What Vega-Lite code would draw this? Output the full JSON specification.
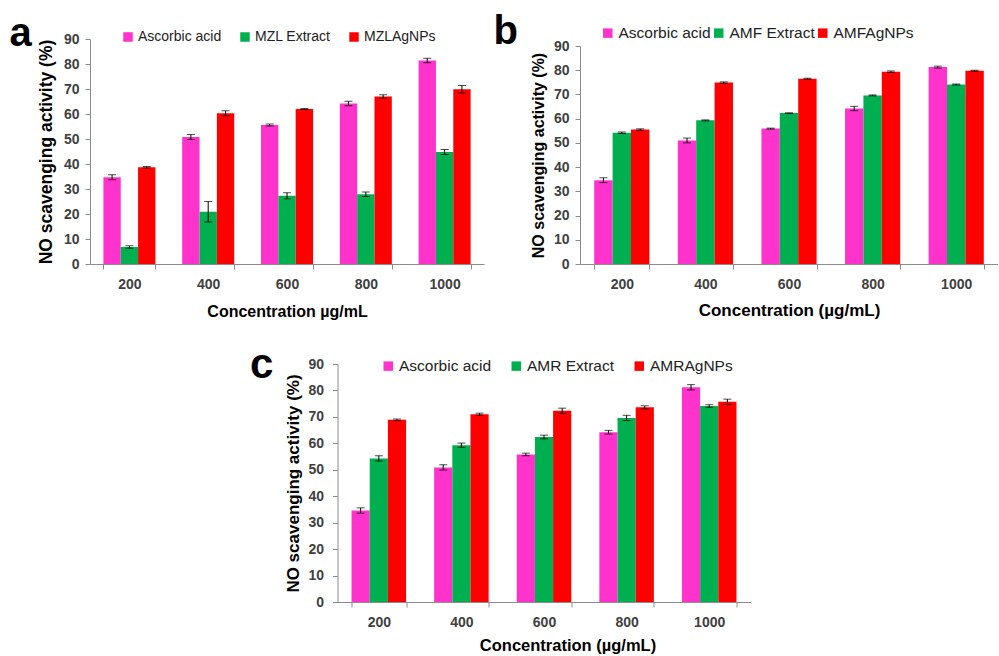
{
  "$schema": "https://vega.github.io/schema/vega-lite/v6.json",
  "background": "white",
  "padding": {"left": 9, "top": 12, "right": 0, "bottom": 0},
  "config": {
    "view": {"stroke": null},
    "font": "Liberation Sans",
    "axis": {"grid": false, "labelFont": "Liberation Sans", "labelFontWeight": "bold", "labelColor": "#404040", "labelFontSize": 14, "titleFont": "Liberation Sans", "titleFontWeight": "bold", "titleColor": "#000000", "titleFontSize": 16, "domainColor": "#8c8c8c", "tickColor": "#8c8c8c", "tickSize": 5},
    "axisY": {"labelPadding": 6},
    "legend": {"symbolType": "square", "symbolSize": 90, "labelFont": "Liberation Sans", "labelColor": "#222222", "labelFontSize": 14, "symbolStrokeWidth": 0, "symbolOpacity": 1, "title": null},
    "title": {"font": "Liberation Sans", "fontWeight": "bold", "fontSize": 40, "color": "#000000", "anchor": "start"}
  },
  "spacing": 25,
  "center": true,
  "resolve": {"scale": {"color": "independent", "x": "independent", "y": "independent", "xOffset": "independent"}, "legend": {"color": "independent"}},
  "vconcat": [
    {
      "spacing": 9,
      "resolve": {"scale": {"color": "independent", "x": "independent", "y": "independent", "xOffset": "independent"}, "legend": {"color": "independent"}},
      "hconcat": [
        {
          "width": 394, "height": 225,
          "title": {"text": "a", "dx": -28, "dy": 28, "offset": 4},
          "data": {"values": [
            {"conc": "200", "series": "Ascorbic acid", "value": 34.7, "err": 1.0},
            {"conc": "200", "series": "MZL Extract", "value": 6.8, "err": 0.5},
            {"conc": "200", "series": "MZLAgNPs", "value": 38.7, "err": 0.3},
            {"conc": "400", "series": "Ascorbic acid", "value": 50.8, "err": 1.0},
            {"conc": "400", "series": "MZL Extract", "value": 20.9, "err": 4.1},
            {"conc": "400", "series": "MZLAgNPs", "value": 60.3, "err": 1.0},
            {"conc": "600", "series": "Ascorbic acid", "value": 55.6, "err": 0.4},
            {"conc": "600", "series": "MZL Extract", "value": 27.3, "err": 1.2},
            {"conc": "600", "series": "MZLAgNPs", "value": 62.0, "err": 0.2},
            {"conc": "800", "series": "Ascorbic acid", "value": 64.2, "err": 0.9},
            {"conc": "800", "series": "MZL Extract", "value": 27.9, "err": 0.9},
            {"conc": "800", "series": "MZLAgNPs", "value": 67.0, "err": 0.7},
            {"conc": "1000", "series": "Ascorbic acid", "value": 81.4, "err": 0.9},
            {"conc": "1000", "series": "MZL Extract", "value": 44.8, "err": 1.0},
            {"conc": "1000", "series": "MZLAgNPs", "value": 69.9, "err": 1.5}
          ]},
          "encoding": {
            "x": {"field": "conc", "type": "nominal", "sort": ["200", "400", "600", "800", "1000"], "title": "Concentration µg/mL", "scale": {"paddingInner": 0.34, "paddingOuter": 0.17}, "axis": {"labelAngle": 0, "tickBand": "extent", "labelPadding": 8, "titlePadding": 12}},
            "xOffset": {"field": "series", "type": "nominal", "sort": ["Ascorbic acid", "MZL Extract", "MZLAgNPs"]},
            "y": {"field": "value", "type": "quantitative", "scale": {"domain": [0, 90], "nice": false}, "title": "NO scavenging activity  (%)", "axis": {"values": [0, 10, 20, 30, 40, 50, 60, 70, 80, 90], "titlePadding": 8, "titleFontSize": 17.5}}
          },
          "layer": [
            {"mark": {"type": "bar"}, "encoding": {"color": {"field": "series", "type": "nominal", "scale": {"domain": ["Ascorbic acid", "MZL Extract", "MZLAgNPs"], "range": ["#ff33cc", "#00b050", "#ff0000"]}, "legend": {"orient": "none", "direction": "horizontal", "legendX": 31, "legendY": -9, "columnPadding": 16, "labelOffset": 3}}}},
            {"mark": {"type": "errorbar", "color": "#000000", "ticks": {"size": 8, "color": "#000000"}}, "encoding": {"yError": {"field": "err"}}}
          ]
        },
        {
          "width": 418, "height": 225,
          "title": {"text": "b", "dx": -37, "dy": 34, "offset": 7},
          "data": {"values": [
            {"conc": "200", "series": "Ascorbic acid", "value": 34.6, "err": 1.0},
            {"conc": "200", "series": "AMF Extract", "value": 54.2, "err": 0.3},
            {"conc": "200", "series": "AMFAgNPs", "value": 55.5, "err": 0.3},
            {"conc": "400", "series": "Ascorbic acid", "value": 51.0, "err": 1.0},
            {"conc": "400", "series": "AMF Extract", "value": 59.3, "err": 0.2},
            {"conc": "400", "series": "AMFAgNPs", "value": 74.9, "err": 0.3},
            {"conc": "600", "series": "Ascorbic acid", "value": 55.9, "err": 0.2},
            {"conc": "600", "series": "AMF Extract", "value": 62.3, "err": 0.1},
            {"conc": "600", "series": "AMFAgNPs", "value": 76.5, "err": 0.2},
            {"conc": "800", "series": "Ascorbic acid", "value": 64.2, "err": 0.9},
            {"conc": "800", "series": "AMF Extract", "value": 69.6, "err": 0.2},
            {"conc": "800", "series": "AMFAgNPs", "value": 79.4, "err": 0.3},
            {"conc": "1000", "series": "Ascorbic acid", "value": 81.3, "err": 0.4},
            {"conc": "1000", "series": "AMF Extract", "value": 74.1, "err": 0.2},
            {"conc": "1000", "series": "AMFAgNPs", "value": 79.8, "err": 0.2}
          ]},
          "encoding": {
            "x": {"field": "conc", "type": "nominal", "sort": ["200", "400", "600", "800", "1000"], "title": "Concentration (µg/mL)", "scale": {"paddingInner": 0.34, "paddingOuter": 0.17}, "axis": {"labelAngle": 0, "tickBand": "extent", "labelPadding": 8, "titlePadding": 11, "titleFontSize": 17}},
            "xOffset": {"field": "series", "type": "nominal", "sort": ["Ascorbic acid", "AMF Extract", "AMFAgNPs"]},
            "y": {"field": "value", "type": "quantitative", "scale": {"domain": [0, 90], "nice": false, "range": [225, 7]}, "title": "NO scavenging activity  (%)", "axis": {"values": [0, 10, 20, 30, 40, 50, 60, 70, 80, 90], "titlePadding": 7, "titleFontSize": 16}}
          },
          "layer": [
            {"mark": {"type": "bar"}, "encoding": {"color": {"field": "series", "type": "nominal", "scale": {"domain": ["Ascorbic acid", "AMF Extract", "AMFAgNPs"], "range": ["#ff33cc", "#00b050", "#ff0000"]}, "legend": {"orient": "none", "direction": "horizontal", "legendX": 20, "legendY": -14, "columnPadding": 0, "labelOffset": 3, "labelFontSize": 15.5}}}},
            {"mark": {"type": "errorbar", "color": "#000000", "ticks": {"size": 8, "color": "#000000"}}, "encoding": {"yError": {"field": "err"}}}
          ]
        }
      ]
    },
    {
      "width": 413, "height": 238,
      "title": {"text": "c", "dx": -35, "dy": 34, "fontSize": 42},
      "data": {"values": [
        {"conc": "200", "series": "Ascorbic acid", "value": 34.6, "err": 1.0},
        {"conc": "200", "series": "AMR Extract", "value": 54.3, "err": 1.0},
        {"conc": "200", "series": "AMRAgNPs", "value": 68.9, "err": 0.3},
        {"conc": "400", "series": "Ascorbic acid", "value": 50.9, "err": 1.0},
        {"conc": "400", "series": "AMR Extract", "value": 59.3, "err": 0.8},
        {"conc": "400", "series": "AMRAgNPs", "value": 71.0, "err": 0.4},
        {"conc": "600", "series": "Ascorbic acid", "value": 55.8, "err": 0.5},
        {"conc": "600", "series": "AMR Extract", "value": 62.4, "err": 0.7},
        {"conc": "600", "series": "AMRAgNPs", "value": 72.3, "err": 1.0},
        {"conc": "800", "series": "Ascorbic acid", "value": 64.2, "err": 0.7},
        {"conc": "800", "series": "AMR Extract", "value": 69.6, "err": 1.0},
        {"conc": "800", "series": "AMRAgNPs", "value": 73.6, "err": 0.6},
        {"conc": "1000", "series": "Ascorbic acid", "value": 81.2, "err": 1.0},
        {"conc": "1000", "series": "AMR Extract", "value": 74.1, "err": 0.5},
        {"conc": "1000", "series": "AMRAgNPs", "value": 75.7, "err": 1.0}
      ]},
      "encoding": {
        "x": {"field": "conc", "type": "nominal", "sort": ["200", "400", "600", "800", "1000"], "title": "Concentration (µg/mL)", "scale": {"paddingInner": 0.34, "paddingOuter": 0.17}, "axis": {"labelAngle": 0, "tickBand": "extent", "labelPadding": 8, "titlePadding": 8, "titleFontSize": 16.5, "titleX": 230}},
        "xOffset": {"field": "series", "type": "nominal", "sort": ["Ascorbic acid", "AMR Extract", "AMRAgNPs"]},
        "y": {"field": "value", "type": "quantitative", "scale": {"domain": [0, 90], "nice": false}, "title": "NO scavenging activity  (%)", "axis": {"values": [0, 10, 20, 30, 40, 50, 60, 70, 80, 90], "titlePadding": 5, "titleFontSize": 17, "labelPadding": 9}}
      },
      "layer": [
        {"mark": {"type": "bar"}, "encoding": {"color": {"field": "series", "type": "nominal", "scale": {"domain": ["Ascorbic acid", "AMR Extract", "AMRAgNPs"], "range": ["#ff33cc", "#00b050", "#ff0000"]}, "legend": {"orient": "none", "direction": "horizontal", "legendX": 43, "legendY": -6, "columnPadding": 17, "labelOffset": 3, "labelFontSize": 15.5}}}},
        {"mark": {"type": "errorbar", "color": "#000000", "ticks": {"size": 8, "color": "#000000"}}, "encoding": {"yError": {"field": "err"}}}
      ]
    }
  ]
}
